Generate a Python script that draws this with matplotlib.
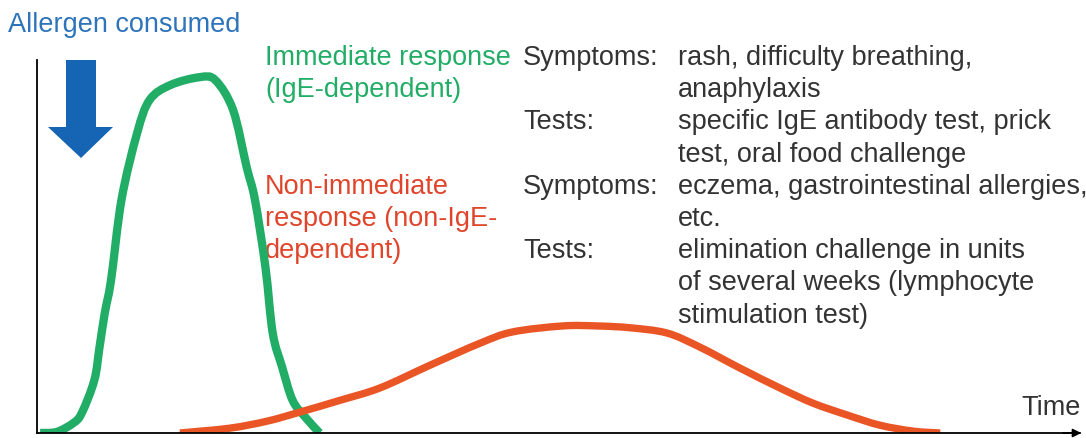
import numpy as np
import matplotlib.pyplot as plt
from matplotlib.patches import Polygon, PathPatch
from matplotlib.path import Path

W, H = 1086, 438

# response curves (time in arbitrary units 0-100, response 0-100)
green_t = [0.3, 1.9, 3.5, 4.3, 5.5, 6.0, 6.5, 7.1, 8.1, 9.6, 10.8, 12.8, 15.6, 17.1,
           18.8, 20.1, 20.9, 21.9, 22.6, 23.5, 24.5, 25.7, 27.1]
green_r = [0, 0.3, 2.7, 5.4, 14.2, 23.1, 32.2, 41.0, 62.5, 80.4, 89.3, 93.3, 95.4, 94.6,
           86.6, 71.3, 62.5, 44.5, 26.8, 17.7, 8.8, 4.3, 0]
orange_t = [13.7, 18.5, 22.1, 25.2, 29.1, 32.9, 37.7, 42.5, 45.6, 50.4, 53.7, 56.9,
            60.4, 63.5, 67.4, 71.2, 74.4, 77.7, 80.8, 84.0, 86.6]
orange_r = [0, 1.3, 3.2, 5.6, 8.8, 12.1, 18.2, 24.1, 27.1, 28.7, 28.7, 28.2,
            26.8, 23.1, 17.4, 12.1, 8.0, 4.8, 2.1, 0.5, 0]

green_label = ["Immediate response", "(IgE-dependent)"]
orange_label = ["Non-immediate", "response (non-IgE-", "dependent)"]
info_keys = ["Symptoms:", "", "Tests:", "", "Symptoms:", "", "Tests:", "", ""]
info_vals = ["rash, difficulty breathing,", "anaphylaxis",
             "specific IgE antibody test, prick", "test, oral food challenge",
             "eczema, gastrointestinal allergies,", "etc.",
             "elimination challenge in units", "of several weeks (lymphocyte",
             "stimulation test)"]

GREEN = "#22ad66"
ORANGE = "#ea5526"
BLUE = "#1565b4"
TEXT = "#333333"

plt.rcParams['font.family'] = ['Liberation Sans', 'DejaVu Sans']


def smooth_path(xs, ys):
    # catmull-rom through the points, drawn as cubic bezier segments
    p = np.column_stack([xs, ys]).astype(float)
    p = np.vstack([p[0], p, p[-1]])
    verts = [p[1]]
    codes = [Path.MOVETO]
    for i in range(1, len(p) - 2):
        c1 = p[i] + (p[i + 1] - p[i - 1]) / 6
        c2 = p[i + 1] - (p[i + 2] - p[i]) / 6
        verts += [c1, c2, p[i + 1]]
        codes += [Path.CURVE4] * 3
    return Path(verts, codes)


fig = plt.figure(figsize=(W / 100, H / 100), dpi=100)

# main axes: origin at pixel (37, 433), top at y=60, right at x=1080
ax = fig.add_axes([37 / W, (H - 433) / H, (1080 - 37) / W, (433 - 60) / H])
ax.add_patch(PathPatch(smooth_path(green_t, green_r), fill=False, edgecolor=GREEN,
                       lw=6, capstyle='butt', joinstyle='round'))
ax.add_patch(PathPatch(smooth_path(orange_t, orange_r), fill=False, edgecolor=ORANGE,
                       lw=5.3, capstyle='butt', joinstyle='round'))
ax.set_xlim(0, 100)
ax.set_ylim(0, 100)
ax.set_xticks([])
ax.set_yticks([])
for s in ['top', 'right']:
    ax.spines[s].set_visible(False)
ax.spines['left'].set_linewidth(1.3)
ax.spines['bottom'].set_linewidth(1.3)
ax.patch.set_alpha(0)

# overlay in pixel coords for annotations
ov = fig.add_axes([0, 0, 1, 1], zorder=-1)
ov.set_xlim(0, W)
ov.set_ylim(H, 0)
ov.axis('off')

# x-axis arrowhead
ov.annotate("", xy=(1084, 433), xytext=(1060, 433),
            arrowprops=dict(arrowstyle='-|>', color='black', lw=1.3, mutation_scale=12))

# blue down arrow
arrow = Polygon([(66, 60), (96, 60), (96, 127), (113, 127), (81, 158),
                 (48, 127), (66, 127)], closed=True, color=BLUE, lw=0)
ov.add_patch(arrow)

fs = 19.5
ov.text(8, 25, "Allergen consumed", color="#2e74bb", fontsize=fs, va='center')

y0, dy = 58, 32.2
for i, line in enumerate(green_label):
    ov.text(265, y0 + i * dy, line, color=GREEN, fontsize=fs, va='center')
for i, line in enumerate(orange_label):
    ov.text(265, y0 + (4 + i) * dy, line, color="#e0452b", fontsize=fs, va='center')
for i, (k, v) in enumerate(zip(info_keys, info_vals)):
    if k:
        ov.text(523, y0 + i * dy, k, color=TEXT, fontsize=fs, va='center')
    ov.text(678, y0 + i * dy, v, color=TEXT, fontsize=fs, va='center')

ov.text(1081, 408, "Time", color=TEXT, fontsize=fs, va='center', ha='right')

fig.savefig("out.png", dpi=100)
